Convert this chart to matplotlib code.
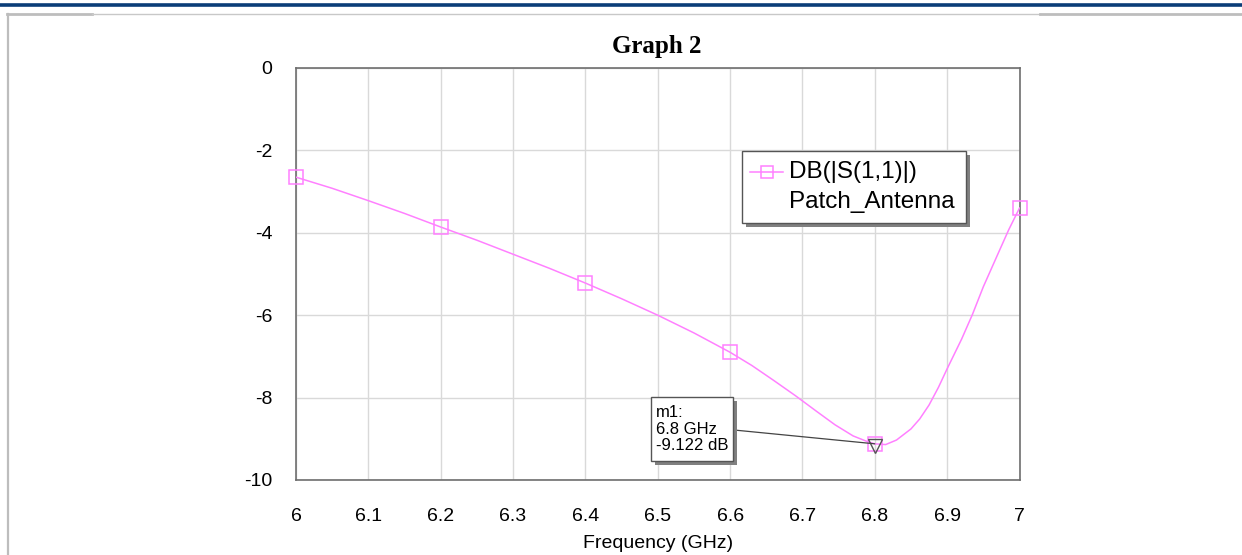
import matplotlib
matplotlib.use("Agg")
import matplotlib.pyplot as plt
from matplotlib.patches import Rectangle
from matplotlib.lines import Line2D

# ---- data ----
freq = [6.0, 6.05, 6.1, 6.15, 6.2, 6.25, 6.3, 6.35, 6.4, 6.45, 6.5, 6.55, 6.6,
        6.63, 6.66, 6.69, 6.72, 6.745, 6.77, 6.79, 6.80, 6.815, 6.83, 6.85, 6.862,
        6.875, 6.888, 6.90, 6.92, 6.935, 6.95, 6.97, 6.985, 7.0]
s11_db = [-2.65, -2.92, -3.22, -3.53, -3.86, -4.18, -4.52, -4.86, -5.22, -5.60, -6.00,
          -6.43, -6.90, -7.22, -7.58, -7.95, -8.34, -8.66, -8.93, -9.07, -9.122, -9.14,
          -9.03, -8.76, -8.52, -8.18, -7.75, -7.30, -6.58, -5.98, -5.31, -4.52, -3.93,
          -3.40]
marker_freq = [6.0, 6.2, 6.4, 6.6, 6.8, 7.0]
marker_db = [-2.65, -3.86, -5.22, -6.90, -9.122, -3.40]
m1_freq = 6.8
m1_db = -9.122
xticks = [6.0, 6.1, 6.2, 6.3, 6.4, 6.5, 6.6, 6.7, 6.8, 6.9, 7.0]
xticklabels = ["6", "6.1", "6.2", "6.3", "6.4", "6.5", "6.6", "6.7", "6.8", "6.9", "7"]
yticks = [0, -2, -4, -6, -8, -10]
yticklabels = ["0", "-2", "-4", "-6", "-8", "-10"]

W, H = 1242, 555
plt.rcParams['font.family'] = ['Liberation Sans', 'DejaVu Sans']
fig = plt.figure(figsize=(W / 100, H / 100), dpi=100)


def P(px, py):
    return (px / W, 1 - py / H)


# page decorations
fig.add_artist(Line2D([0, 1], [1 - 4.5 / H] * 2, transform=fig.transFigure,
                      color='#0b3d78', lw=2.6))
fig.add_artist(Line2D([7 / W, 92 / W], [1 - 14 / H] * 2, transform=fig.transFigure,
                      color='#bdbdbd', lw=2.0))
fig.add_artist(Line2D([92 / W, 1040 / W], [1 - 14 / H] * 2, transform=fig.transFigure,
                      color='#c8c8c8', lw=1.0))
fig.add_artist(Line2D([1040 / W, 1], [1 - 14 / H] * 2, transform=fig.transFigure,
                      color='#bdbdbd', lw=2.0))
fig.add_artist(Line2D([7.5 / W] * 2, [0, 1 - 14 / H], transform=fig.transFigure,
                      color='#bdbdbd', lw=1.6))

ax_l, ax_r, ax_t, ax_b = 296, 1019.5, 68, 480
ax = fig.add_axes([ax_l / W, 1 - ax_b / H, (ax_r - ax_l) / W, (ax_b - ax_t) / H])

pink = '#ff80ff'
ax.plot(freq, s11_db, color=pink, lw=1.1, zorder=3, solid_joinstyle='round')
ax.plot(marker_freq, marker_db, ls='none', marker='s', ms=9.5, mfc='none',
        mec=pink, mew=1.1, zorder=4, clip_on=False)
ax.plot([m1_freq], [m1_db - 0.05], ls='none', marker='v', ms=10, mfc='none',
        mec='#555555', mew=1.0, zorder=5)

ax.set_xlim(6.0, 7.0)
ax.set_ylim(-10, 0)
ax.set_xticks(xticks)
ax.set_xticklabels(xticklabels)
ax.set_yticks(yticks)
ax.set_yticklabels(yticklabels)
ax.tick_params(length=0, labelsize=14, colors='black')
ax.tick_params(axis='y', pad=17)
ax.tick_params(axis='x', pad=20.5)
ax.grid(True, color='#d9d9d9', lw=1.0)
ax.set_axisbelow(True)
for s in ax.spines.values():
    s.set_color('#6e6e6e')
    s.set_linewidth(1.2)
ax.set_xlabel('Frequency (GHz)', fontsize=14, labelpad=7)

fig.text(*P(657, 47), 'Graph 2', ha='center', va='center',
         fontsize=18, fontweight='bold', family='Liberation Serif')


# legend (drawn manually)
def rect_px(x0, y0, x1, y1, **kw):
    fx0, fy1 = P(x0, y0)
    fx1, fy0 = P(x1, y1)
    r = Rectangle((fx0, fy0), fx1 - fx0, fy1 - fy0, transform=fig.transFigure, **kw)
    fig.add_artist(r)
    return r


rect_px(746, 155, 970, 227, facecolor='#808080', edgecolor='none', zorder=10)
rect_px(742, 151, 966, 223, facecolor='white', edgecolor='#555555', lw=1.0, zorder=11)
lx0, ly = P(750, 172)
lx1, _ = P(783, 172)
fig.add_artist(Line2D([lx0, lx1], [ly, ly], transform=fig.transFigure, color=pink,
                      lw=1.1, zorder=12))
fig.add_artist(Line2D([(lx0 + lx1) / 2], [ly], transform=fig.transFigure, ls='none',
                      marker='s', ms=9, mfc='none', mec=pink, mew=1.1, zorder=12))
fig.text(*P(789, 172), 'DB(|S(1,1)|)', ha='left', va='center', fontsize=17.5, zorder=12)
fig.text(*P(789, 202), 'Patch_Antenna', ha='left', va='center', fontsize=17.5, zorder=12)

# marker annotation box
rect_px(655, 401, 737, 465, facecolor='#808080', edgecolor='none', zorder=10)
rect_px(651, 397, 733, 461, facecolor='white', edgecolor='#555555', lw=1.0, zorder=11)
fig.text(*P(656, 429), 'm1:\n6.8 GHz\n-9.122 dB', ha='left', va='center',
         fontsize=12, linespacing=1.1, zorder=12)
ax.annotate('', xy=(m1_freq, m1_db), xycoords='data',
            xytext=P(734, 430), textcoords='figure fraction',
            arrowprops=dict(arrowstyle='-', color='#444444', lw=0.9,
                            shrinkA=0, shrinkB=0), zorder=9)

fig.savefig('out.png', dpi=100)
